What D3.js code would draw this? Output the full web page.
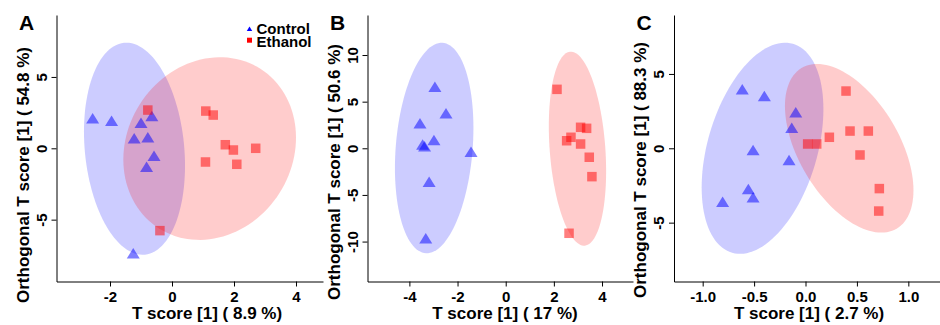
<!DOCTYPE html>
<html>
<head>
<meta charset="utf-8">
<script src="https://cdn.jsdelivr.net/npm/d3@7"></script>
<style>
  body { margin: 0; background: #fff; }
  svg { display: block; }
</style>
</head>
<body>
<svg id="chart"></svg>
<script>
// values
const groups = ["Control", "Ethanol"];
const panelNames = ["A", "B", "C"];
const xTitles = ["T score [1] ( 8.9 %)", "T score [1] ( 17 %)", "T score [1] ( 2.7 %)"];
const yTitles = [
  "Orthogonal T score [1] ( 54.8 %)",
  "Orthogonal T score [1] ( 50.6 %)",
  "Orthogonal T score [1] ( 88.3 %)"
];

const xTicksA = [-2, 0, 2, 4];
const yTicksA = [-5, 0, 5];
const xTicksB = [-4, -2, 0, 2, 4];
const yTicksB = [-10, -5, 0, 5, 10];
const xTicksC = [-1, -0.5, 0, 0.5, 1];
const yTicksC = [-5, 0, 5];

// [T score, orthogonal T score]
const controlA = [[-2.56, 2.10], [-1.95, 1.93], [-1.00, 1.79], [-0.65, 2.26], [-1.22, 0.70],
  [-0.78, 0.77], [-0.58, -0.52], [-0.82, -1.29], [-1.25, -7.36]];
const ethanolA = [[-0.78, 2.68], [1.09, 2.61], [1.33, 2.33], [1.72, 0.25], [1.98, -0.12],
  [2.70, 0.00], [1.08, -0.96], [2.09, -1.12], [-0.39, -5.77]];

const controlB = [[-2.94, 6.60], [-2.48, 3.75], [-3.56, 2.68], [-2.98, 0.89], [-3.45, 0.40],
  [-3.37, 0.22], [-1.44, -0.36], [-3.18, -3.58], [-3.32, -9.65]];
const ethanolB = [[2.13, 6.32], [3.11, 2.25], [3.36, 2.14], [2.71, 1.18], [2.53, 0.81],
  [3.11, 0.46], [3.47, -0.96], [3.58, -3.04], [2.63, -9.11]];

const controlC = [[-0.615, 3.97], [-0.40, 3.52], [-0.095, 2.42], [-0.134, 1.39], [-0.51, -0.11],
  [-0.16, -0.79], [-0.556, -2.74], [-0.51, -3.30], [-0.806, -3.59]];
const ethanolC = [[0.394, 3.85], [0.433, 1.16], [0.611, 1.16], [0.232, 0.74], [0.021, 0.29],
  [0.109, 0.29], [0.53, -0.45], [0.718, -2.71], [0.712, -4.22]];

// ellipses: [centre x, centre y, half x-range, half y-range, correlation]
const ellipseControlA = [-1.21, -0.03, 1.63, 7.43, -0.16];
const ellipseEthanolA = [1.215, -0.02, 2.785, 6.40, 0.12];
const ellipseControlB = [-2.97, 0.03, 1.63, 11.28, 0.19];
const ellipseEthanolB = [2.98, -0.04, 1.19, 10.40, -0.23];
const ellipseControlC = [-0.418, 0.0, 0.592, 7.10, 0.37];
const ellipseEthanolC = [0.425, 0.0, 0.625, 5.67, -0.50];

const width = 940, height = 325;
const plotTop = 15, plotBottom = 281.5;

const panels = [
  { name: panelNames[0], left: 56.5, right: 323, xDomain: [-3.726, 4.871], yDomain: [-9.334, 9.341],
    xTicks: xTicksA, yTicks: yTicksA, digits: 0, control: controlA, ethanol: ethanolA,
    ellipses: [ellipseControlA, ellipseEthanolA], xTitle: xTitles[0], yTitle: yTitles[0],
    xTitleX: 207, yTitleY: 303 },
  { name: panelNames[1], left: 367.5, right: 633, xDomain: [-5.739, 5.286], yDomain: [-14.28, 14.29],
    xTicks: xTicksB, yTicks: yTicksB, digits: 0, control: controlB, ethanol: ethanolB,
    ellipses: [ellipseControlB, ellipseEthanolB], xTitle: xTitles[1], yTitle: yTitles[1],
    xTitleX: 505, yTitleY: 300 },
  { name: panelNames[2], left: 674, right: 940, xDomain: [-1.279, 1.308], yDomain: [-8.958, 8.964],
    xTicks: xTicksC, yTicks: yTicksC, digits: 1, control: controlC, ethanol: ethanolC,
    ellipses: [ellipseControlC, ellipseEthanolC], xTitle: xTitles[2], yTitle: yTitles[2],
    xTitleX: 809, yTitleY: 298 }
];

const fillColor = { Control: "rgba(0,0,255,0.2)", Ethanol: "rgba(255,0,0,0.2)" };
const pointColor = { Control: "rgba(0,0,255,0.5)", Ethanol: "rgba(255,0,0,0.5)" };
const solidColor = { Control: "#0000ff", Ethanol: "#ff0000" };

const svg = d3.select("#chart")
  .attr("width", width)
  .attr("height", height)
  .style("font-family", "'Liberation Sans', Arial, sans-serif")
  .style("font-weight", "bold");

// R prints a plain hyphen, not the unicode minus
const fmt = (digits) => (d) => d3.format(`.${digits}f`)(d).replace("\u2212", "-");

function trianglePath(w, h) {
  return `M0,${-h / 2}L${w / 2},${h / 2}L${-w / 2},${h / 2}Z`;
}

function scorePlot(p) {
  const x = d3.scaleLinear().domain(p.xDomain).range([p.left, p.right]);
  const y = d3.scaleLinear().domain(p.yDomain).range([plotBottom, plotTop]);
  const g = svg.append("g");

  // confidence ellipses
  const line = d3.line()
    .x(d => x(d[0]))
    .y(d => y(d[1]))
    .curve(d3.curveLinearClosed);

  p.ellipses.forEach((e, i) => {
    const [cx, cy, rx, ry, rho] = e;
    const pts = d3.range(120).map(k => {
      const t = (k / 120) * 2 * Math.PI;
      return [cx + rx * Math.cos(t), cy + ry * (rho * Math.cos(t) + Math.sqrt(1 - rho * rho) * Math.sin(t))];
    });
    g.append("path")
      .attr("d", line(pts))
      .attr("fill", fillColor[groups[i]]);
  });

  // points
  g.append("g")
    .selectAll("path")
    .data(p.control)
    .join("path")
    .attr("transform", d => `translate(${x(d[0])},${y(d[1])})`)
    .attr("d", trianglePath(13, 10.5))
    .attr("fill", pointColor.Control);

  g.append("g")
    .selectAll("rect")
    .data(p.ethanol)
    .join("rect")
    .attr("x", d => x(d[0]) - 4.75)
    .attr("y", d => y(d[1]) - 4.75)
    .attr("width", 9.5)
    .attr("height", 9.5)
    .attr("fill", pointColor.Ethanol);

  // x-axis
  g.append("g")
    .attr("transform", `translate(0,${plotBottom})`)
    .call(d3.axisBottom(x).tickValues(p.xTicks).tickFormat(fmt(p.digits)).tickSize(5).tickPadding(5).tickSizeOuter(0))
    .call(a => a.select(".domain").attr("stroke", "#000"))
    .call(a => a.selectAll("text").style("font-size", "15px").attr("fill", "#000"));

  // y-axis, labels parallel to the axis
  g.append("g")
    .attr("transform", `translate(${p.left},0)`)
    .call(d3.axisLeft(y).tickValues(p.yTicks).tickFormat(fmt(0)).tickSize(5).tickSizeOuter(0))
    .call(a => a.selectAll(".tick text")
      .attr("x", null).attr("dy", null)
      .attr("transform", "translate(-10,0) rotate(-90)")
      .attr("text-anchor", "middle")
      .style("font-size", "15px")
      .attr("fill", "#000"));

  // titles
  g.append("text")
    .attr("x", p.xTitleX)
    .attr("y", 319)
    .attr("text-anchor", "middle")
    .style("font-size", "17px")
    .text(p.xTitle);

  g.append("text")
    .attr("transform", `translate(${p.left - 28},${p.yTitleY}) rotate(-90)`)
    .attr("text-anchor", "start")
    .style("font-size", "17px")
    .text(p.yTitle);

  g.append("text")
    .attr("x", p.left - 30)
    .attr("y", 30)
    .attr("text-anchor", "middle")
    .style("font-size", "21px")
    .text(p.name);
}

panels.forEach(scorePlot);

// legend in panel A
const legend = svg.append("g").attr("transform", "translate(249.5,0)");
legend.append("path")
  .attr("transform", "translate(0,28.7)")
  .attr("d", trianglePath(5.5, 4.5))
  .attr("fill", solidColor.Control);
legend.append("rect")
  .attr("x", -2.5).attr("y", 37.7)
  .attr("width", 5).attr("height", 5)
  .attr("fill", solidColor.Ethanol);
legend.selectAll("text")
  .data(groups)
  .join("text")
  .attr("x", 7)
  .attr("y", (d, i) => 33.5 + i * 13)
  .style("font-size", "15px")
  .text(d => d);
</script>
</body>
</html>
